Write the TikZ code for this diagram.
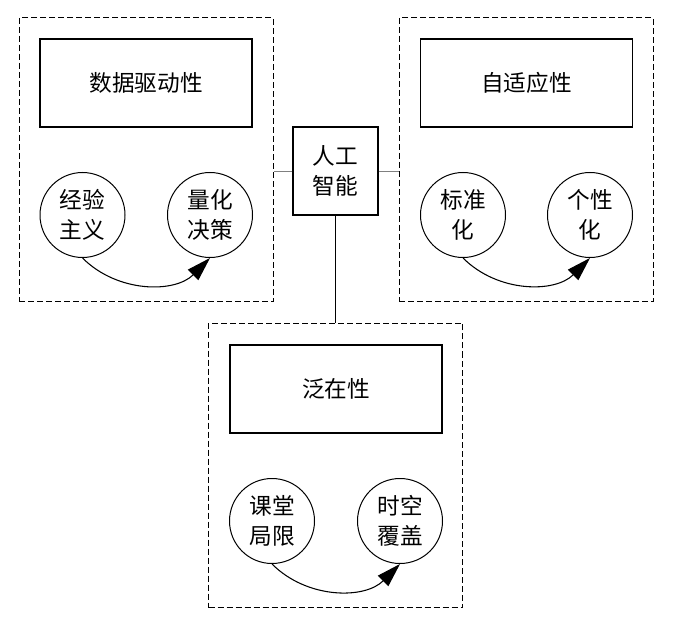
\documentclass[tikz,border=0pt]{standalone}
\usepackage{fontspec}
\newfontfamily\cjk{Noto Sans CJK SC}
\usetikzlibrary{arrows.meta}
\begin{document}
\begin{tikzpicture}[x=0.75pt,y=0.75pt,
  every node/.style={font=\cjk\fontsize{17}{22.5}\selectfont},
  panel/.style={draw,dash pattern=on 4.5pt off 2.25pt,line width=0.75pt,minimum width=190.5pt,minimum height=213pt,inner sep=0pt},
  titlebox/.style={draw,line width=1pt,minimum width=159pt,minimum height=66pt,inner sep=0pt},
  ring/.style={draw,circle,line width=0.75pt,minimum size=63.75pt,inner sep=0pt,align=center},
  core/.style={draw,line width=0.9pt,minimum width=63.75pt,minimum height=66pt,inner sep=0pt,align=center},
  flow/.style={line width=0.8pt,-{Triangle[length=18pt,width=11pt]}}]

\useasboundingbox (0,0) rectangle (681,618);

%centre
\node[core] (ai) at (335.5,447) {人工\\智能};

%left panel
\node[panel] (sjp) at (146,458) {};
\node[titlebox] (sjt) at (146,535) {数据驱动性};
\node[ring] (jyzy) at (82.5,403) {经验\\主义};
\node[ring] (lhjc) at (210,403) {量化\\决策};
\draw[flow] (jyzy.south) to[bend right=45] (lhjc.south);

%right panel
\node[panel] (zsp) at (526,458) {};
\node[titlebox] (zst) at (526.5,535) {自适应性};
\node[ring] (bzh) at (463,403) {标准\\化};
\node[ring] (gxh) at (590,403) {个性\\化};
\draw[flow] (bzh.south) to[bend right=45] (gxh.south);

%bottom panel
\node[panel] (fzp) at (335.5,152.5) {};
\node[titlebox] (fzt) at (336,229) {泛在性};
\node[ring] (ktjx) at (272,97) {课堂\\局限};
\node[ring] (skfg) at (400,97) {时空\\覆盖};
\draw[flow] (ktjx.south) to[bend right=45] (skfg.south);

%links
\draw[gray,line width=0.6pt] (ai.west) -- (ai.west -| sjp.east);
\draw[gray,line width=0.6pt] (ai.east) -- (ai.east -| zsp.west);
\draw[line width=0.9pt] (ai.south) -- (fzp.north);

\end{tikzpicture}
\end{document}
